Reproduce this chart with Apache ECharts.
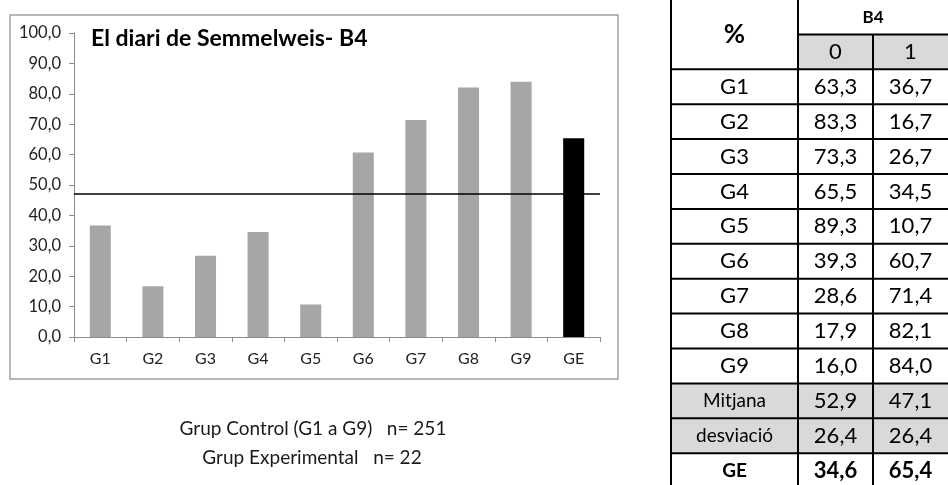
<!DOCTYPE html>
<html>
<head>
<meta charset="utf-8">
<script src="https://cdn.jsdelivr.net/npm/echarts@6/dist/echarts.min.js"></script>
<style>
  html, body { margin: 0; padding: 0; background: #fff; }
  #chart { width: 948px; height: 485px; }
</style>
</head>
<body>
<div id="chart"></div>
<script>
// Percentages per group for answer 0 and answer 1 (question B4)
const groups = ['G1', 'G2', 'G3', 'G4', 'G5', 'G6', 'G7', 'G8', 'G9'];
const pct0 = [63.3, 83.3, 73.3, 65.5, 89.3, 39.3, 28.6, 17.9, 16.0];
const pct1 = [36.7, 16.7, 26.7, 34.5, 10.7, 60.7, 71.4, 82.1, 84.0];
const meanRow = [52.9, 47.1];
const devRow = [26.4, 26.4];
const geRow = [34.6, 65.4];
const expLabel = 'GE';
const answerCols = ['0', '1'];

const FONT = 'Lato';
const fmt = v => v.toFixed(1).replace('.', ',');

const categories = groups.concat([expLabel]);
const barData = pct1.map(v => ({ value: v }))
  .concat([{ value: geRow[1], itemStyle: { color: '#000000' } }]);

// ---- table on the right, built from the arrays above ----
const colX = [671, 798, 873, 948];
const rowH = 34.9;
const headTop = -0.5;
const bodyTop = headTop + 2 * rowH;
const tableRows = groups.map((g, i) => ({ label: g, vals: [pct0[i], pct1[i]], fill: null, bold: false }))
  .concat([
    { label: 'Mitjana', vals: meanRow, fill: '#d9d9d9', bold: false },
    { label: 'desviació', vals: devRow, fill: '#d9d9d9', bold: false },
    { label: expLabel, vals: geRow, fill: null, bold: true }
  ]);

const g = [];
const line = (x1, y1, x2, y2) => g.push({
  type: 'line', shape: { x1, y1, x2, y2 },
  style: { stroke: '#000', lineWidth: 2 }, z: 10
});
const cellText = (text, cx, cy, size, bold) => g.push({
  type: 'text', x: cx, y: cy, z: 11,
  style: { text, fill: '#000', font: (bold ? 'bold ' : '') + size + 'px ' + FONT,
           textAlign: 'center', textVerticalAlign: 'middle' }
});
const cell = (x0, y0, x1, y1, fill) => g.push({
  type: 'rect', shape: { x: x0, y: y0, width: x1 - x0, height: y1 - y0 },
  style: { fill }, z: 9
});

// header
cell(colX[1], headTop + rowH, colX[3] + 2, bodyTop, '#d9d9d9');
cellText('%', (colX[0] + colX[1]) / 2, headTop + rowH, 26, true);
cellText('B4', (colX[1] + colX[3]) / 2, headTop + rowH / 2 + 1, 17, true);
answerCols.forEach((c, j) => cellText(c, (colX[j + 1] + colX[j + 2]) / 2, headTop + 1.5 * rowH, 22, false));

// body
tableRows.forEach((r, i) => {
  const y0 = bodyTop + i * rowH, y1 = y0 + rowH, cy = (y0 + y1) / 2;
  if (r.fill) cell(colX[0], y0, colX[3] + 2, y1, r.fill);
  const labelSize = r.bold ? 19 : (r.label.length > 3 ? 19 : 22);
  cellText(r.label, (colX[0] + colX[1]) / 2, cy, labelSize, r.bold);
  r.vals.forEach((v, j) => cellText(fmt(v), (colX[j + 1] + colX[j + 2]) / 2, cy, 22, r.bold));
});

// grid lines of the table
const tableBottom = bodyTop + tableRows.length * rowH;
line(colX[0], headTop - 5, colX[0], tableBottom + 5);
line(colX[1], headTop - 5, colX[1], tableBottom + 5);
line(colX[2], headTop + rowH, colX[2], tableBottom + 5);
line(colX[1], headTop + rowH, colX[3] + 4, headTop + rowH);
for (let i = 0; i <= tableRows.length; i++) {
  const y = bodyTop + i * rowH;
  line(colX[0], y, colX[3] + 4, y);
}

// frame around the chart area
g.push({
  type: 'rect', shape: { x: 10, y: 15, width: 608, height: 364 },
  style: { fill: null, stroke: '#a0a0a0', lineWidth: 1.5 }, z: 0
});

// chart title
g.push({
  type: 'text', x: 91, y: 39, z: 5,
  style: { text: 'El diari de Semmelweis- B4', fill: '#000', font: 'bold 23px ' + FONT,
           textAlign: 'left', textVerticalAlign: 'middle' }
});

// sample size notes under the chart
g.push({
  type: 'text', x: 313, y: 429, z: 5,
  style: { text: 'Grup Control (G1 a G9)   n= 251', fill: '#1a1a1a', font: '19px ' + FONT,
           textAlign: 'center', textVerticalAlign: 'middle' }
});
g.push({
  type: 'text', x: 312, y: 458, z: 5,
  style: { text: 'Grup Experimental   n= 22', fill: '#1a1a1a', font: '19px ' + FONT,
           textAlign: 'center', textVerticalAlign: 'middle' }
});

const chart = echarts.init(document.getElementById('chart'), null, { renderer: 'canvas' });
chart.setOption({
  animation: false,
  backgroundColor: '#ffffff',
  textStyle: { fontFamily: FONT },
  grid: { left: 74, right: 348, top: 33, bottom: 148 },
  xAxis: {
    type: 'category',
    data: categories,
    boundaryGap: true,
    axisLine: { lineStyle: { color: '#8c8c8c', width: 1 } },
    axisTick: { show: true, length: 5, lineStyle: { color: '#8c8c8c' } },
    axisLabel: { color: '#222', fontSize: 16, fontFamily: FONT, margin: 14 }
  },
  yAxis: {
    type: 'value',
    min: 0, max: 100, interval: 10,
    axisLine: { show: true, lineStyle: { color: '#8c8c8c', width: 1 } },
    axisTick: { show: true, length: 5, lineStyle: { color: '#8c8c8c' } },
    splitLine: { show: false },
    axisLabel: { color: '#222', fontSize: 16.5, fontFamily: FONT, margin: 13, formatter: v => fmt(v) }
  },
  series: [{
    type: 'bar',
    data: barData,
    barWidth: '40%',
    itemStyle: { color: '#a6a6a6' },
    markLine: {
      silent: true,
      symbol: 'none',
      label: { show: false },
      lineStyle: { color: '#000', width: 1.5, type: 'solid' },
      data: [{ yAxis: meanRow[1] }]
    }
  }],
  graphic: g
});
</script>
</body>
</html>
